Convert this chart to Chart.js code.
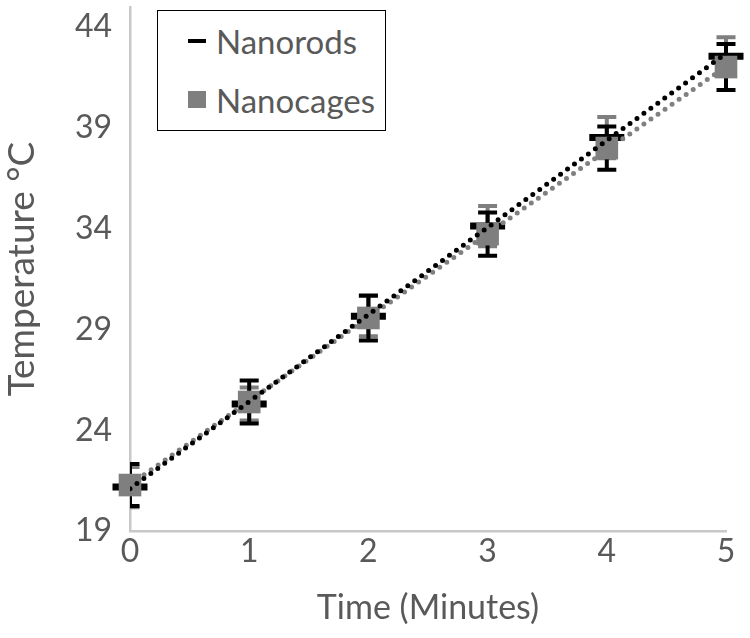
<!DOCTYPE html>
<html>
<head>
<meta charset="utf-8">
<script src="https://cdn.jsdelivr.net/npm/chart.js@4.4.0/dist/chart.umd.min.js"></script>
<style>
  html, body { margin: 0; padding: 0; background: #fff; }
  #wrap { position: relative; width: 750px; height: 638px; }
  #legend {
    position: absolute; left: 157px; top: 10px; width: 227px; height: 119px;
    border: 1px solid #000; background: #fff; font-family: Lato, sans-serif;
    font-size: 33px; color: #595959;
  }
  .item { position: absolute; left: 30px; height: 40px; line-height: 40px; }
  .item span { position: absolute; left: 28px; white-space: nowrap; }
  .dash { position: absolute; left: 0; top: 18px; width: 18px; height: 4px; background: #000; }
  .box { position: absolute; left: 0; top: 11px; width: 18px; height: 17px; background: #7f7f7f; }
</style>
</head>
<body>
<div id="wrap">
  <canvas id="tempChart" width="750" height="638"></canvas>
  <div id="legend">
    <div class="item" style="top:10px"><div class="dash"></div><span>Nanorods</span></div>
    <div class="item" style="top:69px"><div class="box"></div><span>Nanocages</span></div>
  </div>
</div>
<script>
const times = [0, 1, 2, 3, 4, 5];
const nanorods = [21.18, 25.3, 29.66, 34.13, 38.52, 42.56];
const nanorodsErr = [1.0, 0.82, 1.0, 1.0, 1.02, 0.94];
const nanocages = [21.28, 25.4, 29.57, 33.73, 38.0, 42.02];
const nanocagesErr = [1.04, 1.07, 1.12, 1.07, 1.07, 1.14];
// dotted trend lines, ends
const nanorodsTrend = [21.1, 42.7];
const nanocagesTrend = [21.3, 42.05];
const yTicks = [19, 24, 29, 34, 39, 44];
const xTicks = [0, 1, 2, 3, 4, 5];

const grey = '#595959';
const fontName = 'Lato';

const toPoints = (vals) => vals.map((v, i) => ({ x: times[i], y: v }));
const trendPoints = (ends) => [{ x: times[0], y: ends[0] }, { x: times[times.length - 1], y: ends[1] }];

// error bars drawn under the markers
const errorBars = {
    id: 'errorBars',
    beforeDatasetsDraw(chart) {
        const { ctx, chartArea } = chart;
        const x = chart.scales.x, y = chart.scales.y;
        ctx.save();
        ctx.beginPath();
        ctx.rect(chartArea.left, 0, chart.width, chart.height);
        ctx.clip();
        [[nanorods, nanorodsErr, '#7f7f7f'], [nanocages, nanocagesErr, '#000000']].forEach(([vals, errs, color]) => {
            ctx.strokeStyle = color;
            ctx.lineWidth = 4;
            vals.forEach((v, i) => {
                const px = x.getPixelForValue(times[i]);
                const top = y.getPixelForValue(v + errs[i]);
                const bot = y.getPixelForValue(v - errs[i]);
                ctx.beginPath();
                ctx.moveTo(px, top); ctx.lineTo(px, bot);
                ctx.moveTo(px - 9.5, top); ctx.lineTo(px + 9.5, top);
                ctx.moveTo(px - 9.5, bot); ctx.lineTo(px + 9.5, bot);
                ctx.stroke();
            });
        });
        ctx.restore();
    }
};

new Chart(document.getElementById('tempChart').getContext('2d'), {
    type: 'scatter',
    data: {
        datasets: [
            {
                label: 'Nanorods trend',
                data: trendPoints(nanorodsTrend),
                showLine: true,
                borderColor: '#000000',
                borderWidth: 5,
                borderDash: [0, 8.6],
                borderCapStyle: 'round',
                pointRadius: 0,
                order: 0
            },
            {
                label: 'Nanocages trend',
                data: trendPoints(nanocagesTrend),
                showLine: true,
                borderColor: '#808080',
                borderWidth: 5,
                borderDash: [0, 8.6],
                borderCapStyle: 'round',
                pointRadius: 0,
                order: 0
            },
            {
                label: 'Nanocages',
                data: toPoints(nanocages),
                pointStyle: 'rect',
                pointRadius: 16,
                pointBackgroundColor: '#7f7f7f',
                pointBorderWidth: 0,
                clip: false,
                order: 1
            },
            {
                label: 'Nanorods',
                data: toPoints(nanorods),
                pointStyle: 'line',
                pointRadius: 17.5,
                pointBorderColor: '#000000',
                pointBorderWidth: 7,
                clip: false,
                order: 2
            }
        ]
    },
    options: {
        responsive: false,
        animation: false,
        layout: { autoPadding: false, padding: { top: 7, right: 24, left: 0, bottom: 0 } },
        plugins: { legend: { display: false }, tooltip: { enabled: false } },
        scales: {
            x: {
                type: 'linear',
                min: 0,
                max: 5,
                afterBuildTicks: (scale) => { scale.ticks = xTicks.map(v => ({ value: v })); },
                afterFit: (scale) => { scale.height = 107; scale.paddingLeft = 0; scale.paddingRight = 0; },
                grid: { display: false, drawTicks: false },
                border: { display: true, color: '#c8c8c8', width: 2.5 },
                ticks: { color: grey, font: { family: fontName, size: 32 }, padding: 1 },
                title: { display: true, text: 'Time (Minutes)', color: grey, font: { family: fontName, size: 34 }, padding: { top: 0, bottom: 10 } }
            },
            y: {
                type: 'linear',
                min: 19,
                max: 45,
                afterBuildTicks: (scale) => { scale.ticks = yTicks.map(v => ({ value: v })); },
                afterFit: (scale) => { scale.width = 130; scale.paddingTop = 0; scale.paddingBottom = 0; },
                grid: { display: false, drawTicks: false },
                border: { display: true, color: '#c8c8c8', width: 2.5 },
                ticks: { color: grey, font: { family: fontName, size: 32 }, padding: 18 },
                title: { display: true, text: 'Temperature °C', color: grey, font: { family: fontName, size: 37 }, padding: { top: 0, bottom: 0 } }
            }
        }
    },
    plugins: [errorBars]
});
</script>
</body>
</html>
